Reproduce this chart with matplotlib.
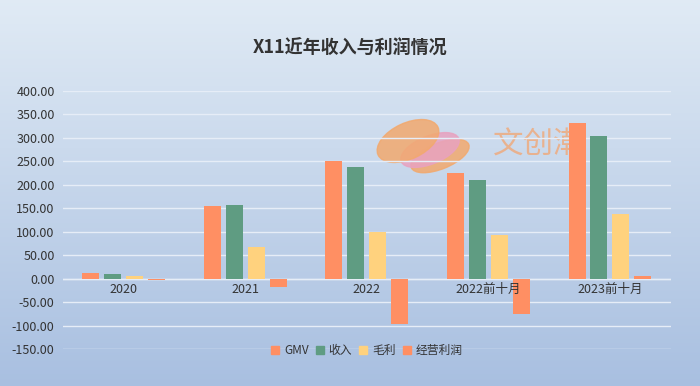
import numpy as np
import matplotlib
matplotlib.use('Agg')
import matplotlib.pyplot as plt
from matplotlib.patches import Patch, Ellipse

plt.rcParams['font.family'] = ['Noto Sans CJK SC', 'DejaVu Sans']

# Data
categories = ['2020', '2021', '2022', '2022前十月', '2023前十月']
series_names = ['GMV', '收入', '毛利', '经营利润']
gmv = [12, 155, 251, 225, 331]
revenue = [10, 157, 238, 211, 303]
gross = [5, 67, 100, 93, 137]
op_profit = [-2, -18, -97, -75, 7]
colors = ['#FF8F63', '#5F9C82', '#FFD27E', '#FF8F63']

fig = plt.figure(figsize=(7, 3.86), dpi=100)

# gradient background
bg = fig.add_axes([0, 0, 1, 1], zorder=0)
grad = np.linspace(0, 1, 256).reshape(-1, 1)
top = np.array([0.88, 0.92, 0.96])
bot = np.array([0.66, 0.75, 0.88])
img = top + (bot - top) * grad[..., None]
bg.imshow(img, aspect='auto', extent=[0, 1, 0, 1])
bg.axis('off')

# watermark logo (rough) + text, behind the bars
tr = fig.dpi_scale_trans
for (cx, cy, w, h, ang, col) in [(4.40, 2.30, 0.62, 0.26, 22, '#F2A96E'),
                                 (4.30, 2.36, 0.62, 0.28, 22, '#E8A2C0'),
                                 (4.08, 2.45, 0.66, 0.36, 25, '#F2A96E')]:
    bg.add_artist(Ellipse((cx, cy), w, h, angle=ang, color=col, alpha=0.85, transform=tr))
bg.text(0.77, 0.625, '文创潮', transform=bg.transAxes, ha='center', va='center',
        fontsize=22, color='#F0A878', alpha=0.8)

ax = fig.add_axes([0.09, 0.095, 0.868, 0.67], zorder=1)
ax.patch.set_alpha(0)

x = np.arange(len(categories))
step = 0.18
width = 0.14
for i, (vals, name) in enumerate(zip([gmv, revenue, gross, op_profit], series_names)):
    ax.bar(x + (i - 1.5) * step, vals, width, color=colors[i], label=name, zorder=3)

ax.set_xlim(-0.5, len(categories) - 0.5)
ax.set_ylim(-150, 400)
ax.set_yticks(np.arange(-150, 401, 50))
ax.set_yticklabels([f'{v:.2f}' for v in np.arange(-150, 401, 50)], fontsize=9, color='#333333')
ax.grid(axis='y', color='#e6edf7', linewidth=1, zorder=1)
ax.axhline(0, color='#e6edf7', linewidth=1, zorder=2)
ax.tick_params(length=0, pad=6)
ax.set_xticks([])
for s in ax.spines.values():
    s.set_visible(False)

for xi, c in zip(x, categories):
    ax.text(xi, -9, c, ha='center', va='top', fontsize=9, color='#333333', zorder=4)

fig.text(0.5, 0.875, 'X11近年收入与利润情况', ha='center', va='center',
         fontsize=13, fontweight='bold', color='#333333')

handles = [Patch(color=c) for c in colors]
leg = ax.legend(handles, series_names, loc='upper center', bbox_to_anchor=(0.5, 0.06),
                ncol=4, frameon=False, fontsize=8.5, handlelength=0.7, handleheight=0.7,
                handletextpad=0.4, columnspacing=0.6)
for t in leg.get_texts():
    t.set_color('#333333')

fig.savefig('out.png', dpi=100)
